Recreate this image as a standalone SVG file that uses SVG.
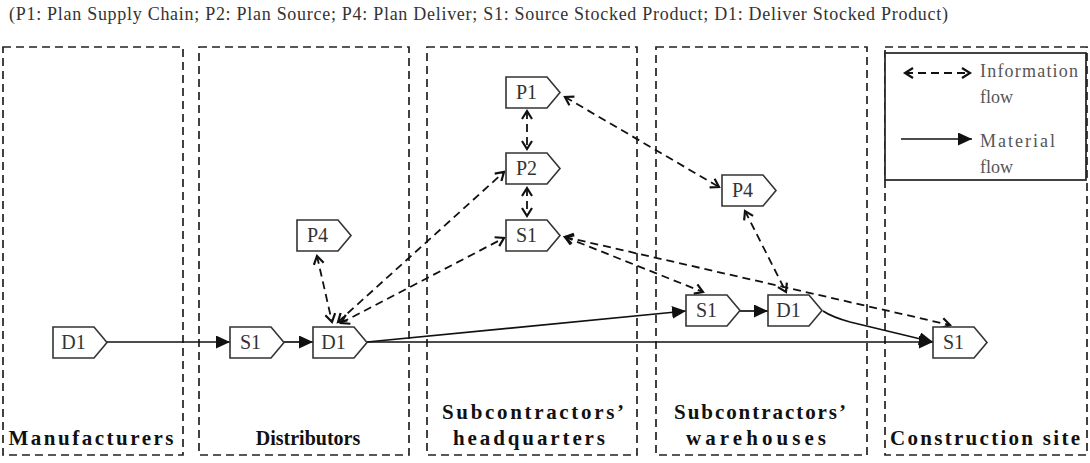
<svg xmlns="http://www.w3.org/2000/svg" width="1090" height="463" viewBox="0 0 1090 463">
<style>
  .zone{fill:none;stroke:#222;stroke-width:1.7;stroke-dasharray:8 5}
  .legend{fill:#fff;stroke:#222;stroke-width:1.7}
  .node{fill:#fff;stroke:#333;stroke-width:1.6}
  .nt{font-family:"Liberation Serif",serif;font-size:20px;fill:#333;text-anchor:middle}
  .zl{font-family:"Liberation Serif",serif;font-size:21px;font-weight:bold;fill:#111;text-anchor:middle}
  .zs{font-size:20px}
  .cap{font-family:"Liberation Serif",serif;font-size:18px;fill:#333}
  .lt{font-family:"Liberation Serif",serif;font-size:18px;fill:#555}
  .mat{fill:none;stroke:#111;stroke-width:1.7;marker-end:url(#solidHead)}
  .info{fill:none;stroke:#111;stroke-width:1.8;stroke-dasharray:8 5;marker-start:url(#openHead);marker-end:url(#openHead)}
</style>
<defs>
  <!-- tag-shaped process element -->
  <path id="tag" d="M0,0 H41 L54,15.5 L41,31 H0 Z"/>
  <marker id="solidHead" markerUnits="userSpaceOnUse" markerWidth="15" markerHeight="13" refX="14" refY="6.5" orient="auto" viewBox="0 0 15 13">
    <path d="M0,0 L14,6.5 L0,13 Z" fill="#111"/>
  </marker>
  <marker id="openHead" markerUnits="userSpaceOnUse" markerWidth="13" markerHeight="13" refX="10" refY="6.5" orient="auto-start-reverse" viewBox="0 0 13 13">
    <path d="M2,1.5 L10,6.5 L2,11.5" fill="none" stroke="#111" stroke-width="2.2"/>
  </marker>
</defs>

<rect width="1090" height="463" fill="#fff"/>

<text class="cap" x="9" y="20" textLength="939">(P1: Plan Supply Chain; P2: Plan Source; P4: Plan Deliver; S1: Source Stocked Product; D1: Deliver Stocked Product)</text>

<!-- supply chain tiers -->
<g id="zones">
  <rect class="zone" x="3" y="47" width="180" height="408"/>
  <rect class="zone" x="199" y="47" width="210" height="408"/>
  <rect class="zone" x="427" y="47" width="210" height="408"/>
  <rect class="zone" x="656" y="47" width="211" height="408"/>
  <rect class="zone" x="885" y="47" width="202" height="408"/>
  <text class="zl" x="91" y="445" textLength="165">Manufacturers</text>
  <text class="zl zs" x="308" y="445">Distributors</text>
  <text class="zl" x="533" y="419" textLength="182">Subcontractors’</text>
  <text class="zl" x="529" y="445" textLength="152">headquarters</text>
  <text class="zl" x="760" y="419" textLength="172">Subcontractors’</text>
  <text class="zl" x="756" y="445" textLength="140">warehouses</text>
  <text class="zl" x="985" y="445" textLength="190">Construction site</text>
</g>

<!-- legend -->
<g id="legend">
  <rect class="legend" x="885" y="53" width="201" height="127"/>
  <path class="info" d="M905,73 H970"/>
  <path class="mat" d="M901,139 H972"/>
  <text class="lt" x="980" y="77" textLength="98">Information</text>
  <text class="lt" x="980" y="103">flow</text>
  <text class="lt" x="980" y="147" textLength="75">Material</text>
  <text class="lt" x="980" y="173">flow</text>
</g>

<g id="connectors">
  <!-- material flow -->
  <path class="mat" d="M106,342 H230"/>
  <path class="mat" d="M284,342 H313"/>
  <path class="mat" d="M367,342 L686,311"/>
  <path class="mat" d="M367,342 H933"/>
  <path class="mat" d="M740,311 H768"/>
  <path class="mat" d="M823,311 Q832,317 850,322 L933,342"/>
  <!-- information flow -->
  <path class="info" d="M527,111 V149"/>
  <path class="info" d="M527,188 V216"/>
  <path class="info" d="M565,97 L719,187"/>
  <path class="info" d="M745,211 L786,292"/>
  <path class="info" d="M565,237 L703,292"/>
  <path class="info" d="M565,237 L950,325"/>
  <path class="info" d="M317,256 L332,322"/>
  <path class="info" d="M338,322 L504,172"/>
  <path class="info" d="M341,323 L504,238"/>
</g>

<g id="n-d1-manufacturer"><use href="#tag" class="node" x="53" y="327"/><text class="nt" x="73.5" y="349">D1</text></g>
<g id="n-s1-distributor"><use href="#tag" class="node" x="230" y="327"/><text class="nt" x="250.5" y="349">S1</text></g>
<g id="n-d1-distributor"><use href="#tag" class="node" x="313" y="327"/><text class="nt" x="333.5" y="349">D1</text></g>
<g id="n-p4-distributor"><use href="#tag" class="node" x="297" y="220"/><text class="nt" x="317.5" y="242">P4</text></g>
<g id="n-p1-hq"><use href="#tag" class="node" x="506" y="77"/><text class="nt" x="526.5" y="99">P1</text></g>
<g id="n-p2-hq"><use href="#tag" class="node" x="506" y="153"/><text class="nt" x="526.5" y="175">P2</text></g>
<g id="n-s1-hq"><use href="#tag" class="node" x="506" y="220"/><text class="nt" x="526.5" y="242">S1</text></g>
<g id="n-p4-warehouse"><use href="#tag" class="node" x="722" y="175"/><text class="nt" x="742.5" y="197">P4</text></g>
<g id="n-s1-warehouse"><use href="#tag" class="node" x="686" y="295"/><text class="nt" x="706.5" y="317">S1</text></g>
<g id="n-d1-warehouse"><use href="#tag" class="node" x="768" y="295"/><text class="nt" x="788.5" y="317">D1</text></g>
<g id="n-s1-site"><use href="#tag" class="node" x="933" y="327"/><text class="nt" x="953.5" y="349">S1</text></g>
</svg>
